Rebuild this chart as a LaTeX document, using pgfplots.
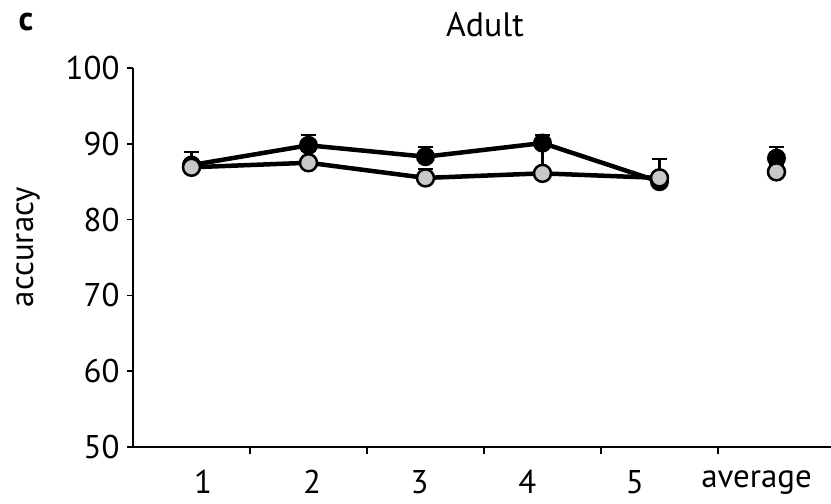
\documentclass[border=0pt]{standalone}
\usepackage{fontspec}
\setmainfont{PT Sans}
\usepackage{pgfplots}
\pgfplotsset{compat=1.18}
\definecolor{gfill}{RGB}{200,200,200}
\begin{document}
\begin{tikzpicture}
\begin{axis}[
  scale only axis, width=698bp, height=379bp,
  xmin=0.5, xmax=6.466, ymin=50, ymax=100,
  axis x line*=bottom, axis y line*=left,
  axis line style={line width=1.5bp},
  ytick={50,60,70,80,90,100},
  xtick={1.098,2.03,2.95,3.87,4.79,5.83},
  xticklabels={1,2,3,4,5,average},
  minor xtick={1.5,2.5,3.5,4.5,5.5},
  major x tick style={draw=none},
  tick align=outside,
  major tick length=6bp, minor tick length=7bp,
  every tick/.style={black, line width=1.5bp},
  tick label style={font=\fontsize{33}{38}\selectfont},
  yticklabel style={xshift=-4bp},
  xticklabel style={yshift=-14bp},
  /pgf/number format/assume math mode=true,
  clip=false,
]
\coordinate (O) at (rel axis cs:0,0);
% black series
\addplot[black, line width=4.5bp, mark=*, mark size=8.5bp, mark options={fill=black, line width=2bp},
  error bars/.cd, y dir=plus, y explicit, error bar style={line width=2.2bp}, error mark options={rotate=90, mark size=7.5bp, line width=2.2bp}]
  table[x=x, y=y, y error=e] {
  x y e
  1 87.2 1.7
  2 89.8 1.4
  3 88.3 1.3
  4 90.1 1.1
  5 85.0 0.5
  };
\addplot[only marks, black, mark=*, mark size=8.5bp, mark options={fill=black, line width=2bp},
  error bars/.cd, y dir=plus, y explicit, error bar style={line width=2.2bp}, error mark options={rotate=90, mark size=7.5bp, line width=2.2bp}]
  table[x=x, y=y, y error=e] {
  x y e
  6 88.1 1.5
  };
% gray series
\addplot[black, line width=4.5bp, mark=*, mark size=8.5bp, mark options={fill=gfill, draw=black, line width=2.5bp},
  error bars/.cd, y dir=plus, y explicit, error bar style={line width=2.2bp}, error mark options={rotate=90, mark size=7.5bp, line width=2.2bp}]
  table[x=x, y=y, y error=e] {
  x y e
  1 86.9 0.8
  2 87.5 1.5
  3 85.5 1.2
  4 86.1 3.5
  5 85.5 2.5
  };
\addplot[only marks, black, mark=*, mark size=8.5bp, mark options={fill=gfill, draw=black, line width=2.5bp},
  error bars/.cd, y dir=plus, y explicit, error bar style={line width=2.2bp}, error mark options={rotate=90, mark size=7.5bp, line width=2.2bp}]
  table[x=x, y=y, y error=e] {
  x y e
  6 86.3 0.9
  };
\end{axis}
\node[font=\fontsize{34}{38}\selectfont] at ([shift={(352bp,422bp)}]O) {Adult};
\node[font=\fontsize{34}{38}\selectfont\bfseries] at ([shift={(-107bp,425bp)}]O) {c};
\node[rotate=90, font=\fontsize{33}{38}\selectfont] at ([shift={(-105bp,200bp)}]O) {accuracy};
\pgfresetboundingbox
\path[use as bounding box] ([shift={(-133bp,-57bp)}]O) rectangle ([shift={(698bp,447bp)}]O);
\end{tikzpicture}
\end{document}
